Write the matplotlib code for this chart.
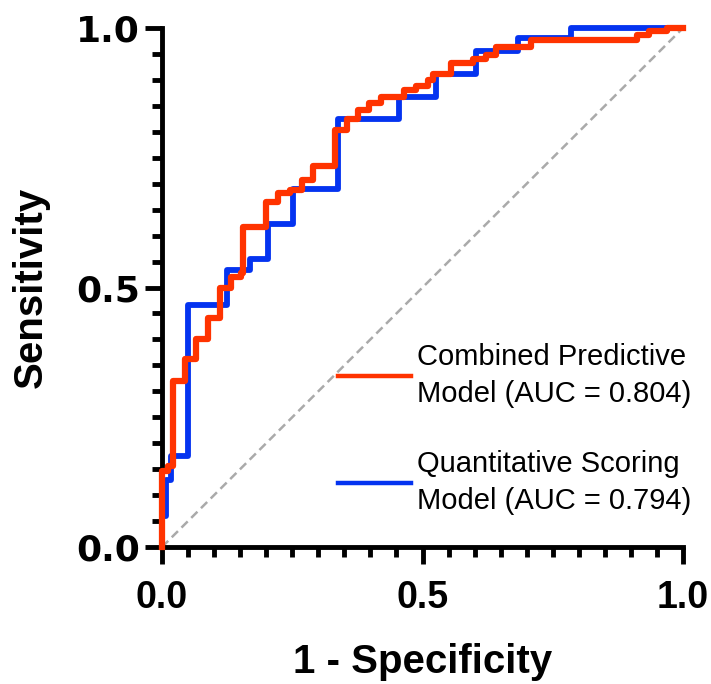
import matplotlib
matplotlib.use("Agg")
import matplotlib.pyplot as plt
from matplotlib.ticker import MultipleLocator

# ROC steps: at each fpr the curve rises to tpr
combined_fpr = [0, 0, 0.012, 0.022, 0.044, 0.066, 0.088, 0.111, 0.132, 0.151, 0.156,
                0.200, 0.223, 0.245, 0.268, 0.290, 0.333, 0.355, 0.376, 0.398, 0.421,
                0.465, 0.488, 0.510, 0.520, 0.555, 0.596, 0.622, 0.641, 0.708, 0.912,
                0.935, 0.970, 1.0]
combined_tpr = [0, 0.147, 0.156, 0.320, 0.363, 0.400, 0.442, 0.500, 0.520, 0.527, 0.616,
                0.665, 0.682, 0.688, 0.707, 0.734, 0.803, 0.824, 0.842, 0.855, 0.867,
                0.880, 0.888, 0.900, 0.911, 0.932, 0.941, 0.948, 0.964, 0.977, 0.987,
                0.995, 1.0, 1.0]

quant_fpr = [0, 0, 0.008, 0.017, 0.050, 0.124, 0.169, 0.204, 0.252, 0.337, 0.455,
             0.525, 0.603, 0.683, 0.785, 1.0]
quant_tpr = [0, 0.060, 0.130, 0.176, 0.467, 0.533, 0.555, 0.623, 0.690, 0.824, 0.867,
             0.912, 0.956, 0.980, 1.0, 1.0]

model_labels = ["Combined Predictive\nModel (AUC = 0.804)",
                "Quantitative Scoring\nModel (AUC = 0.794)"]
tick_values = [0.0, 0.5, 1.0]
tick_labels = ["0.0", "0.5", "1.0"]

plt.rcParams["font.family"] = "Liberation Sans"

fig = plt.figure(figsize=(7.11, 6.84), dpi=100)
ax = fig.add_axes([162 / 711, 1 - 547 / 684, 521 / 711, 519 / 684])

# chance line
ax.plot([0, 1], [0, 1], color="#AAAAAA", lw=1.8, dashes=(3.5, 2), zorder=1)

blue_line, = ax.step(quant_fpr, quant_tpr, where="post", color="#0433F0",
                     lw=4.2, clip_on=False, zorder=2)
red_line, = ax.step(combined_fpr, combined_tpr, where="post", color="#FF3300",
                    lw=4.5, clip_on=False, zorder=3)

ax.set_xlim(0, 1)
ax.set_ylim(0, 1)

for side in ["top", "right"]:
    ax.spines[side].set_visible(False)
for side in ["left", "bottom"]:
    ax.spines[side].set_linewidth(3.5)

ax.set_xticks(tick_values)
ax.set_yticks(tick_values)
ax.set_xticklabels(tick_labels, fontsize=27, fontweight="bold")
ax.set_yticklabels(tick_labels, fontsize=26, fontweight="bold", family="DejaVu Sans")
ax.xaxis.set_minor_locator(MultipleLocator(0.05))
ax.yaxis.set_minor_locator(MultipleLocator(0.05))
ax.tick_params(which="major", length=12, width=3.5, direction="out")
ax.tick_params(axis="x", which="major", pad=12)
ax.tick_params(axis="y", which="major", pad=4)
ax.tick_params(which="minor", length=7, width=3.5, direction="out")

ax.set_xlabel("1 - Specificity", fontsize=29, fontweight="bold")
ax.set_ylabel("Sensitivity", fontsize=29, fontweight="bold")
ax.xaxis.set_label_coords(0.5, -0.185)
ax.yaxis.set_label_coords(-0.215, 0.5)

leg = ax.legend([red_line, blue_line], model_labels,
                loc="upper left", bbox_to_anchor=(338 / 711, 1 - 343 / 684),
                bbox_transform=fig.transFigure, frameon=False, fontsize=21,
                handlelength=2.5, handletextpad=0.2, borderpad=0,
                borderaxespad=0, labelspacing=1.45)
for line in leg.get_lines():
    line.set_linewidth(3.2)
for txt in leg.get_texts():
    txt.set_linespacing(1.4)

fig.savefig("out.png", dpi=100)
